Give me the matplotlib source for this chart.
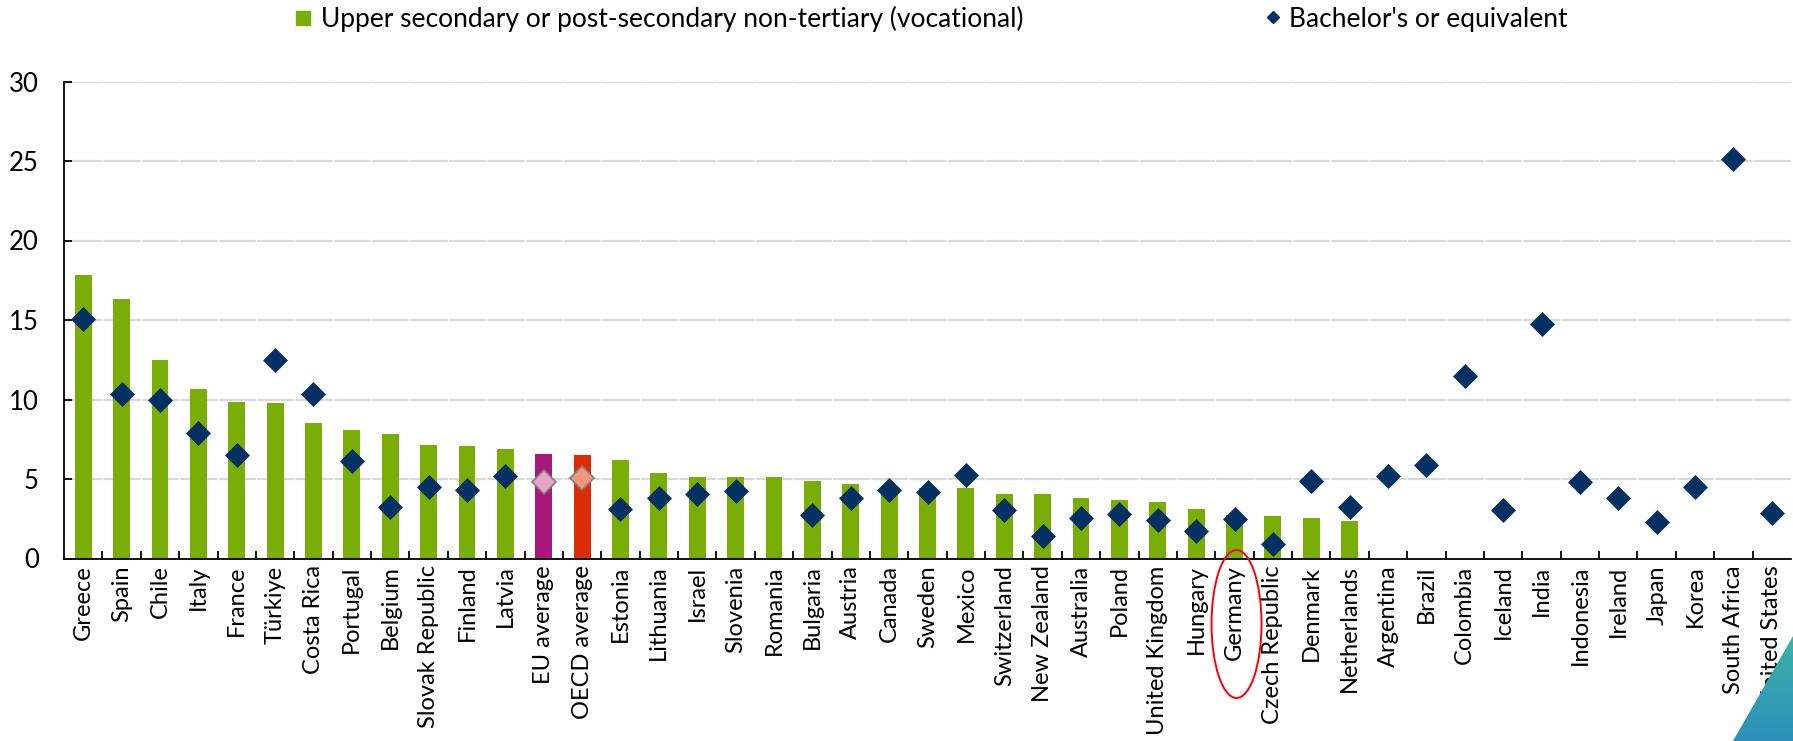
import numpy as np
import matplotlib
matplotlib.use("Agg")
import matplotlib.pyplot as plt
from matplotlib.patches import Ellipse, Polygon
from matplotlib.lines import Line2D
from matplotlib.transforms import IdentityTransform

plt.rcParams["font.family"] = ["Lato", "DejaVu Sans"]

countries = ["Greece", "Spain", "Chile", "Italy", "France", "Türkiye", "Costa Rica",
             "Portugal", "Belgium", "Slovak Republic", "Finland", "Latvia",
             "EU average", "OECD average", "Estonia", "Lithuania", "Israel", "Slovenia",
             "Romania", "Bulgaria", "Austria", "Canada", "Sweden", "Mexico",
             "Switzerland", "New Zealand", "Australia", "Poland", "United Kingdom",
             "Hungary", "Germany", "Czech Republic", "Denmark", "Netherlands",
             "Argentina", "Brazil", "Colombia", "Iceland", "India", "Indonesia",
             "Ireland", "Japan", "Korea", "South Africa", "United States"]

nan = np.nan
vocational = [17.83, 16.32, 12.46, 10.68, 9.84, 9.78, 8.52, 8.06, 7.81, 7.12, 7.06, 6.89,
              6.57, 6.51, 6.19, 5.36, 5.15, 5.11, 5.11, 4.87, 4.66, 4.55, 4.45, 4.43,
              4.08, 4.08, 3.80, 3.70, 3.53, 3.13, 2.75, 2.67, 2.55, 2.36,
              nan, nan, nan, nan, nan, nan, nan, nan, nan, nan, nan]

bachelor = [15.04, 10.33, 9.95, 7.91, 6.49, 12.51, 10.37, 6.13, 3.26, 4.52, 4.29, 5.19,
            4.79, 5.08, 3.09, 3.83, 4.04, 4.27, nan, 2.74, 3.83, 4.30, 4.16, 5.23,
            3.03, 1.44, 2.57, 2.80, 2.42, 1.73, 2.48, 0.89, 4.89, 3.22,
            5.19, 5.90, 11.46, 3.07, 14.77, 4.79, 3.83, 2.28, 4.50, 25.13, 2.84]

yticks = [0, 5, 10, 15, 20, 25, 30]

GREEN = "#78AE06"
NAVY = "#043063"
bar_cols = {"EU average": "#A8177A", "OECD average": "#DC2C05"}
dia_cols = {"EU average": "#E8A5C8", "OECD average": "#F4967A"}

W, H = 1793, 741
fig = plt.figure(figsize=(W / 100, H / 100), dpi=100)
ax = fig.add_axes([64 / W, 1 - 558.5 / H, (1791 - 64) / W, (558.5 - 81.5) / H])

x = np.arange(len(countries))

# Gitterlinien mit kleinen Lücken an den Kategoriegrenzen
for y in yticks[1:]:
    ax.axhline(y, color="#D9D9D9", lw=1.6, zorder=0.5)
ax.vlines(np.arange(0.5, len(countries) - 0.5, 1), 0.3, 30.5, color="white",
          lw=1.0, zorder=0.6)

colors = [bar_cols.get(c, GREEN) for c in countries]
ax.bar(x, vocational, width=0.44, color=colors, zorder=2)

for xi, v, c in zip(x, bachelor, countries):
    if np.isnan(v):
        continue
    if c in dia_cols:
        ax.plot(xi, v, marker="D", ms=12, color=dia_cols[c], mec="#808080",
                mew=1.2, zorder=3, clip_on=False)
    else:
        ax.plot(xi, v, marker="D", ms=12, color=NAVY, mec=NAVY, mew=0.5,
                zorder=3, clip_on=False)

ax.set_xlim(-0.5, len(countries) - 0.5)
ax.set_ylim(0, 30)
ax.set_yticks(yticks)
ax.set_xticks(x)
ax.set_xticklabels(countries, rotation=90, ha="center", va="top")
ax.set_xticks(np.arange(0.5, len(countries) - 0.5, 1), minor=True)
ax.tick_params(axis="x", which="major", length=0, pad=5, labelsize=17)
ax.tick_params(axis="x", which="minor", direction="in", length=6, width=1.3)
ax.tick_params(axis="y", direction="in", length=6, width=1.3, pad=18, labelsize=18.5)
for s in ("top", "right"):
    ax.spines[s].set_visible(False)
for s in ("left", "bottom"):
    ax.spines[s].set_linewidth(1.3)

# Legende
h1 = Line2D([], [], marker="s", ls="", ms=10.5, color=GREEN)
h2 = Line2D([], [], marker="D", ls="", ms=6.5, color=NAVY)
fig.legend([h1], ["Upper secondary or post-secondary non-tertiary (vocational)"],
           loc="center left", bbox_to_anchor=(285 / W, 1 - 19 / H), frameon=False,
           fontsize=19, handlelength=0.6, handletextpad=0.35, borderaxespad=0)
fig.legend([h2], ["Bachelor's or equivalent"],
           loc="center left", bbox_to_anchor=(1255 / W, 1 - 19 / H), frameon=False,
           fontsize=19, handlelength=0.6, handletextpad=0.3, borderaxespad=0)

# roter Kreis um Germany
gx = ax.transData.transform((countries.index("Germany"), 0))[0]
fig.patches.append(Ellipse((gx + 2, H - 624), 50, 148, fill=False, ec="red", lw=1.4,
                           transform=IdentityTransform(), figure=fig))

# Ecke unten rechts
cax = fig.add_axes([1733 / W, 0, 60 / W, 105 / H])
cax.set_axis_off()
grad = np.linspace(0, 1, 64).reshape(-1, 1)
im = cax.imshow(np.tile(grad, (1, 16)), cmap=matplotlib.colors.LinearSegmentedColormap.from_list(
    "t", ["#2E8FBA", "#3AB3A6"]), origin="lower", extent=(0, 1, 0, 1), aspect="auto")
tri = Polygon([(0, 0), (1, 0), (1, 1)], transform=cax.transData)
im.set_clip_path(tri)
cax.set_xlim(0, 1)
cax.set_ylim(0, 1)

fig.savefig("out.png", dpi=100)
